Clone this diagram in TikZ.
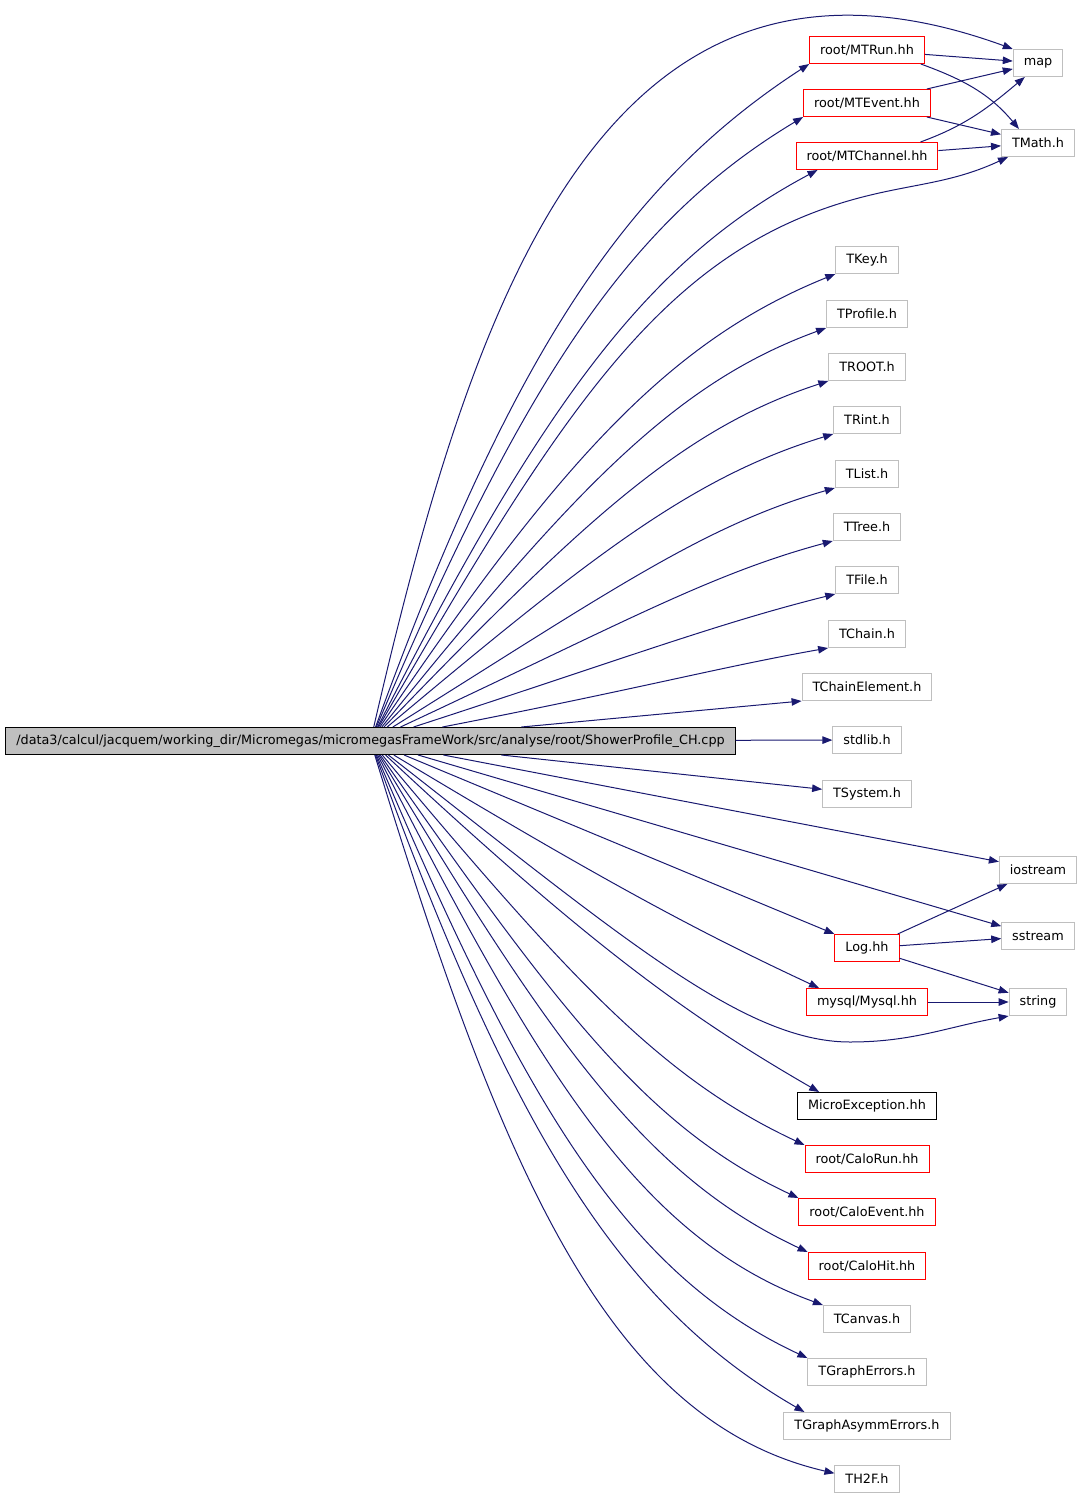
\documentclass[tikz,border=0pt]{standalone}
\usepackage{fontspec}
\setmainfont{DejaVu Sans}
\usepackage{tikz}
\usetikzlibrary{arrows.meta,positioning}

\definecolor{edgeblue}{HTML}{191970}
\definecolor{boxgray}{HTML}{BFBFBF}

\tikzset{
	inc/.style={draw=boxgray, line width=1pt, minimum height=27pt, inner xsep=10.5pt, inner ysep=0pt, font=\fontsize{12.8}{14}\selectfont},
	redinc/.style={inc, draw=red},
	blackinc/.style={inc, draw=black},
	mainfile/.style={inc, draw=black, fill=boxgray},
	dep/.style={draw=edgeblue, line width=1pt, -{Triangle[length=10pt,width=7.5pt]}},
	fan/.style={out looseness=1.3, in looseness=0.7}
}

\begin{document}
\begin{tikzpicture}[x=1pt, y=-1pt]
	\useasboundingbox (0, 0) rectangle (1083, 1500);

	\node [mainfile] (main) at (370.5, 741) {/data3/calcul/jacquem/working\_dir/Micromegas/micromegasFrameWork/src/analyse/root/ShowerProfile\_CH.cpp};

	\node [redinc] (mtrun) at (867, 50) {root/MTRun.hh};
	\node [redinc] (mtevent) at (867, 103) {root/MTEvent.hh};
	\node [redinc] (mtchannel) at (867, 156) {root/MTChannel.hh};
	\node [inc] (map) at (1038, 63) {map};
	\node [inc] (tmath) at (1038, 143) {TMath.h};
	\node [inc] (tkey) at (867, 260) {TKey.h};
	\node [inc] (tprofile) at (867, 314) {TProfile.h};
	\node [inc] (troot) at (867, 367) {TROOT.h};
	\node [inc] (trint) at (867, 420) {TRint.h};
	\node [inc] (tlist) at (867, 474) {TList.h};
	\node [inc] (ttree) at (867, 527) {TTree.h};
	\node [inc] (tfile) at (867, 580) {TFile.h};
	\node [inc] (tchain) at (867, 634) {TChain.h};
	\node [inc] (tchainelement) at (867, 687) {TChainElement.h};
	\node [inc] (stdlib) at (867, 740) {stdlib.h};
	\node [inc] (tsystem) at (867, 794) {TSystem.h};
	\node [inc] (iostream) at (1038, 870) {iostream};
	\node [inc] (sstream) at (1038, 936) {sstream};
	\node [redinc] (log) at (867, 948) {Log.hh};
	\node [inc] (string) at (1038, 1002) {string};
	\node [redinc] (mysql) at (867, 1002) {mysql/Mysql.hh};
	\node [blackinc] (microexception) at (867, 1106) {MicroException.hh};
	\node [redinc] (calorun) at (867, 1159) {root/CaloRun.hh};
	\node [redinc] (caloevent) at (867, 1212) {root/CaloEvent.hh};
	\node [redinc] (calohit) at (867, 1266) {root/CaloHit.hh};
	\node [inc] (tcanvas) at (867, 1319) {TCanvas.h};
	\node [inc] (tgrapherrors) at (867, 1372) {TGraphErrors.h};
	\node [inc] (tgraphasymmerrors) at (867, 1426) {TGraphAsymmErrors.h};
	\node [inc] (th2f) at (867, 1479) {TH2F.h};

	% upper includes
	\draw [dep] (main) to[out=77, in=160, looseness=1.2] (map.north west);
	\draw [dep, fan] (main) to[out=70, in=213] (mtrun.south west);
	\draw [dep, fan] (main) to[out=67, in=211] (mtevent.south west);
	\draw [dep, fan] (main) to[out=63, in=208] ([xshift=22pt]mtchannel.south west);
	\draw [dep, fan] (main) to[out=60, in=198] (835, 205) to[out=18, in=205, looseness=1] ([xshift=7pt]tmath.south west);
	\draw [dep, fan] (main) to[out=56, in=202] (tkey.south west);
	\draw [dep, fan] (main) to[out=51, in=200] (tprofile.south west);
	\draw [dep, fan] (main) to[out=46, in=198] (troot.south west);
	\draw [dep, fan] (main) to[out=40, in=197] (trint.south west);
	\draw [dep, fan] (main) to[out=32, in=196] (tlist.south west);
	\draw [dep, fan] (main) to[out=25, in=195] (ttree.south west);
	\draw [dep, fan] (main) to[out=18, in=194] (tfile.south west);
	\draw [dep, fan] (main) to[out=11, in=190] (tchain.south west);
	\draw [dep] (main) -- (tchainelement.south west);
	\draw [dep] (main) -- (stdlib);

	% lower includes
	\draw [dep] (main) -- (tsystem.174);
	\draw [dep] (main) -- (iostream.168);
	\draw [dep] (main) -- (sstream.165);
	\draw [dep] (main) -- (log.north west);
	\draw [dep, fan] (main) to[out=-31, in=155] ([xshift=13pt]mysql.north west);
	\draw [dep] (main) to[out=-38, in=180, out looseness=1.4, in looseness=0.5] (850, 1042) to[out=0, in=190] (string.south west);
	\draw [dep, fan] (main) to[out=-43, in=150] ([xshift=22pt]microexception.north west);
	\draw [dep, fan] (main) to[out=-50, in=155] (calorun.north west);
	\draw [dep, fan] (main) to[out=-55, in=155] (caloevent.north west);
	\draw [dep, fan] (main) to[out=-59, in=155] (calohit.north west);
	\draw [dep, fan] (main) to[out=-63, in=160] (tcanvas.north west);
	\draw [dep, fan] (main) to[out=-67, in=155] (tgrapherrors.north west);
	\draw [dep, fan] (main) to[out=-70, in=150] ([xshift=21pt]tgraphasymmerrors.north west);
	\draw [dep, fan] (main) to[out=-73, in=167] (th2f.170);

	% second level
	\draw [dep] (mtrun) -- (map);
	\draw [dep] ([xshift=-4pt]mtrun.south east) to[out=-20, in=130] ([xshift=18pt]tmath.north west);
	\draw [dep] (mtevent) -- (map);
	\draw [dep] (mtevent) -- (tmath);
	\draw [dep] ([xshift=-18pt]mtchannel.north east) to[out=20, in=-140] ([xshift=12pt]map.south west);
	\draw [dep] (mtchannel) -- (tmath);
	\draw [dep] (log) -- (iostream);
	\draw [dep] (log) -- (sstream);
	\draw [dep] (log) -- (string);
	\draw [dep] (mysql) -- (string);
\end{tikzpicture}
\end{document}
